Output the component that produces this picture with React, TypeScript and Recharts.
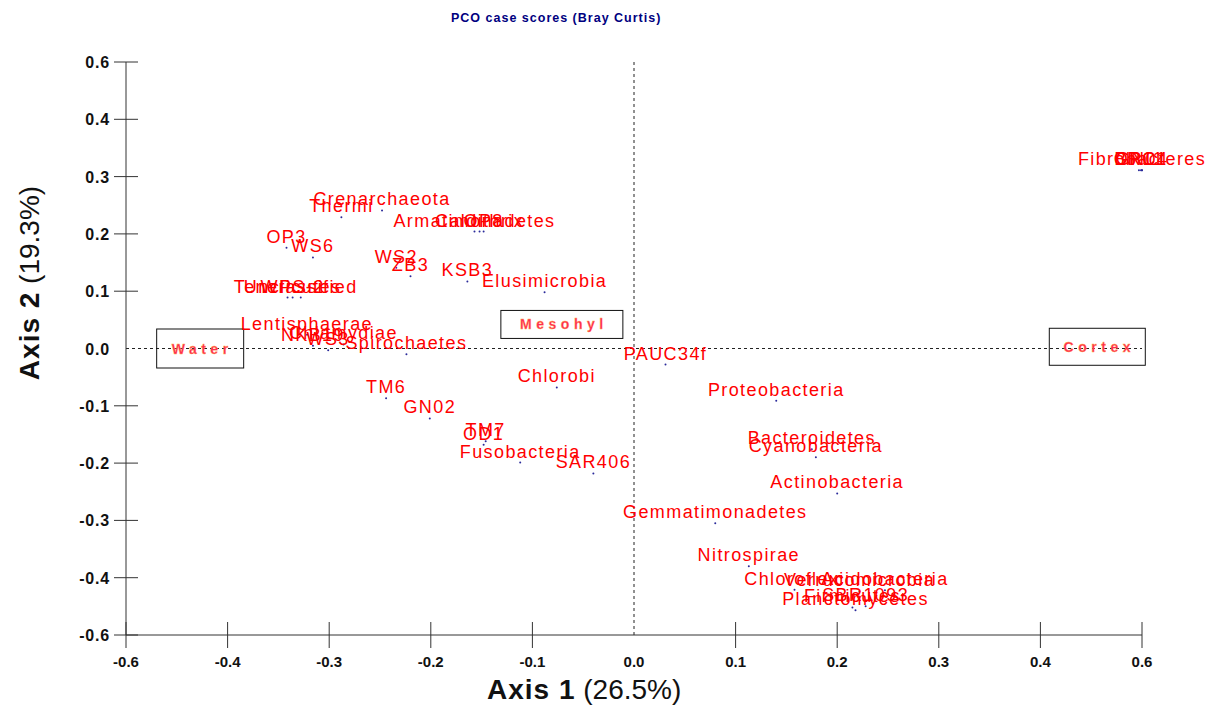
import { ScatterChart, Scatter, XAxis, YAxis, ReferenceLine } from 'recharts';

// PCO case scores: phyla positioned on the first two principal coordinates
const phylumNames = [
  'Fibrobacteres', 'OP11', 'GN04', 'BRC1',
  'Crenarchaeota', 'Thermi', 'Armatimonadetes', 'Caldithrix', 'OP8',
  'OP3', 'WS6', 'WS2', 'ZB3', 'KSB3', 'Elusimicrobia',
  'Tenericutes', 'WPS-2', 'Unclassified', 'Lentisphaerae',
  'NKB19', 'Chlamydiae', 'WS3', 'Spirochaetes',
  'PAUC34f', 'Chlorobi', 'TM6', 'GN02', 'TM7', 'OD1', 'Fusobacteria', 'SAR406',
  'Proteobacteria', 'Bacteroidetes', 'Cyanobacteria', 'Actinobacteria',
  'Gemmatimonadetes', 'Nitrospirae', 'Chloroflexi', 'Verrucomicrobia',
  'Acidobacteria', 'Firmicutes', 'SBR1093', 'Planctomycetes',
];
const phylumAxis1 = [
  0.5, 0.497, 0.5, 0.499,
  -0.248, -0.288, -0.157, -0.152, -0.148,
  -0.342, -0.316, -0.234, -0.22, -0.164, -0.088,
  -0.341, -0.336, -0.328, -0.322,
  -0.316, -0.286, -0.301, -0.224,
  0.031, -0.076, -0.244, -0.201, -0.146, -0.148, -0.112, -0.04,
  0.14, 0.175, 0.179, 0.2,
  0.08, 0.113, 0.158, 0.222,
  0.247, 0.215, 0.228, 0.218,
];
const phylumAxis2 = [
  0.311, 0.311, 0.311, 0.311,
  0.241, 0.229, 0.204, 0.204, 0.204,
  0.176, 0.159, 0.141, 0.126, 0.117, 0.098,
  0.089, 0.089, 0.089, 0.024,
  0.005, 0.007, -0.003, -0.01,
  -0.028, -0.068, -0.087, -0.122, -0.162, -0.168, -0.199, -0.218,
  -0.091, -0.176, -0.19, -0.253,
  -0.305, -0.38, -0.421, -0.424,
  -0.422, -0.452, -0.45, -0.457,
];

// sample groups (centroids drawn as boxed labels)
const groupNames = ['Water', 'Mesohyl', 'Cortex'];
const groupAxis1 = [-0.427, -0.071, 0.456];
const groupAxis2 = [0.0, 0.042, 0.003];

const axisTicks = [-0.5, -0.4, -0.3, -0.2, -0.1, 0, 0.1, 0.2, 0.3, 0.4, 0.5];
const axisTickLabels = ['-0.6', '-0.4', '-0.3', '-0.2', '-0.1', '0.0', '0.1', '0.2', '0.3', '0.4', '0.6'];

const phyla = phylumNames.map((name, i) => ({ name, x: phylumAxis1[i], y: phylumAxis2[i] }));
const groups = groupNames.map((name, i) => ({ name, x: groupAxis1[i], y: groupAxis2[i] }));

const FONT = '"Liberation Sans", Arial, sans-serif';

const boxSize: Record<string, [number, number]> = {
  Water: [87, 39],
  Mesohyl: [122, 28],
  Cortex: [96, 37],
};

const PhylumMark = (props: any) => {
  const { cx, cy, payload } = props;
  return (
    <g>
      <circle cx={cx} cy={cy} r={1} fill="#2a2a9a" />
      <text
        x={cx}
        y={cy - 5}
        textAnchor="middle"
        fill="#ff0000"
        fontFamily={FONT}
        fontSize={18}
        letterSpacing={1.4}
      >
        {payload.name}
      </text>
    </g>
  );
};

const GroupMark = (props: any) => {
  const { cx, cy, payload } = props;
  const [w, h] = boxSize[payload.name] || [90, 34];
  return (
    <g>
      <rect x={cx - w / 2} y={cy - h / 2} width={w} height={h} fill="none" stroke="#111" strokeWidth={1} />
      <text
        x={cx + 2}
        y={cy + 5}
        textAnchor="middle"
        fill="#ff2a55"
        stroke="#ffb040"
        strokeWidth={0.3}
        fontFamily={FONT}
        fontWeight="bold"
        fontSize={14}
        letterSpacing={4.5}
      >
        {payload.name}
      </text>
    </g>
  );
};

const XTick = (props: any) => {
  const { x, y, index, payload } = props;
  return (
    <g>
      {payload.value !== 0 && <line x1={x} x2={x} y1={y - 13} y2={y + 13} stroke="#333" />}
      <text x={x} y={y + 32} textAnchor="middle" fontFamily={FONT} fontWeight="bold" fontSize={15} fill="#111">
        {axisTickLabels[index]}
      </text>
    </g>
  );
};

const YTick = (props: any) => {
  const { x, y, index, payload } = props;
  return (
    <g>
      {payload.value !== 0 && <line x1={x - 12} x2={x + 12} y1={y} y2={y} stroke="#333" />}
      <text x={x - 16} y={y + 6} textAnchor="end" fontFamily={FONT} fontWeight="bold" fontSize={16} letterSpacing={0.8} fill="#111">
        {axisTickLabels[index]}
      </text>
    </g>
  );
};

export default function App() {
  return (
    <div style={{ position: 'absolute', left: 0, top: 0, width: 1221, height: 709, background: '#fff', fontFamily: FONT }}>
      <div style={{ position: 'absolute', left: 451, top: 11, fontSize: 12.5, fontWeight: 'bold', color: '#00007f', letterSpacing: 1 }}>
        PCO case scores (Bray Curtis)
      </div>
      <ScatterChart width={1221} height={709} margin={{ top: 62, right: 79, bottom: 44, left: 66 }}>
        <XAxis
          type="number"
          dataKey="x"
          domain={[-0.5, 0.5]}
          ticks={axisTicks}
          height={30}
          tickSize={0}
          tickMargin={0}
          tickLine={false}
          tick={<XTick />}
          axisLine={{ stroke: '#333' }}
          interval={0}
        />
        <YAxis
          type="number"
          dataKey="y"
          domain={[-0.5, 0.5]}
          ticks={axisTicks}
          width={60}
          tickSize={0}
          tickMargin={0}
          tickLine={false}
          tick={<YTick />}
          axisLine={{ stroke: '#333' }}
          interval={0}
        />
        <ReferenceLine x={0} stroke="#222" strokeDasharray="3 3" />
        <ReferenceLine y={0} stroke="#222" strokeDasharray="3 3" />
        <Scatter data={groups} shape={<GroupMark />} isAnimationActive={false} />
        <Scatter data={phyla} shape={<PhylumMark />} isAnimationActive={false} />
      </ScatterChart>
      <div style={{ position: 'absolute', left: 487, top: 674, fontSize: 28, color: '#111', whiteSpace: 'nowrap' }}>
        <span style={{ fontWeight: 'bold', letterSpacing: 1 }}>Axis 1</span> <span>(26.5%)</span>
      </div>
      <div
        style={{
          position: 'absolute',
          left: 30,
          top: 283,
          fontSize: 28,
          color: '#111',
          whiteSpace: 'nowrap',
          transform: 'translate(-50%, -50%) rotate(-90deg)',
        }}
      >
        <span style={{ fontWeight: 'bold', letterSpacing: 1 }}>Axis 2</span> <span>(19.3%)</span>
      </div>
    </div>
  );
}
